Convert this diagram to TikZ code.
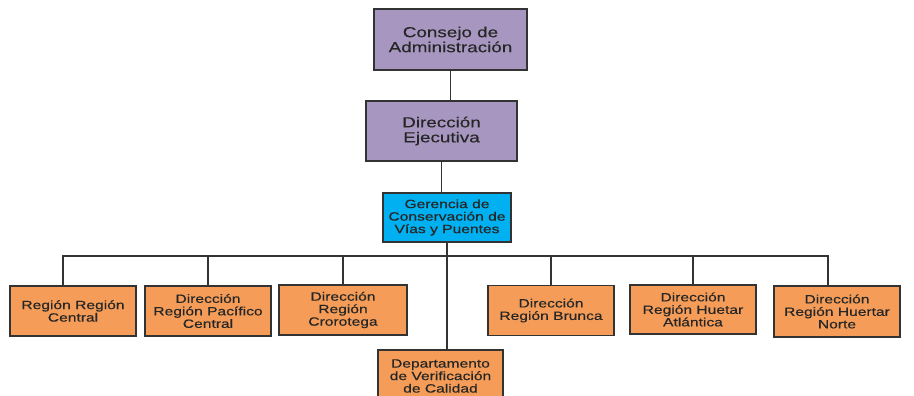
\documentclass[tikz,border=0pt]{standalone}
\usepackage{fontspec}
\setmainfont[FakeStretch=1.3,FakeBold=0.4]{Liberation Sans}
\usepackage{tikz}
\usetikzlibrary{positioning}
\definecolor{lila}{RGB}{167,151,192}
\definecolor{celeste}{RGB}{0,176,240}
\definecolor{naranja}{RGB}{245,157,88}
\definecolor{linea}{RGB}{51,51,51}
\def\fbig{\fontsize{14.5}{15}\selectfont}
\def\fsmall{\fontsize{12}{12.5}\selectfont}

\begin{document}
\begin{tikzpicture}[box/.style={draw=linea, line width=1.2pt, align=center, inner sep=0pt, text=black!85},
	top/.style={box, fill=lila, font=\fbig},
	reg/.style={box, fill=naranja, font=\fsmall, minimum width=126pt, minimum height=50pt},
	conn/.style={draw=linea, line width=1.2pt}]
	\useasboundingbox (0pt,0pt) rectangle (914pt,-396pt);
	\draw (450.5pt, -39.5pt)node[top, minimum width=153pt, minimum height=61pt](0){Consejo de\\Administración};
	\draw (441.5pt, -131.0pt)node[top, minimum width=151pt, minimum height=60pt](1){Dirección\\Ejecutiva};
	\draw (447.0pt, -217.5pt)node[box, fill=celeste, font=\fsmall, minimum width=128pt, minimum height=49pt](2){Gerencia de\\Conservación de\\Vías y Puentes};
	\draw (73.0pt, -311.0pt)node[reg](3){Región Región\\Central};
	\draw (208.0pt, -311.0pt)node[reg](4){Dirección\\Región Pacífico\\Central};
	\draw (343.0pt, -310.0pt)node[reg, minimum width=128pt](5){Dirección\\Región\\Crorotega};
	\draw (440.5pt, -376.0pt)node[reg, minimum width=125pt, minimum height=52pt](6){Departamento\\de Verificación\\de Calidad};
	\draw (551.0pt, -310.5pt)node[reg](7){Dirección\\Región Brunca};
	\draw (693.0pt, -309.5pt)node[reg, minimum height=49pt](8){Dirección\\Región Huetar\\Atlántica};
	\draw (837.0pt, -311.5pt)node[reg, minimum height=51pt](9){Dirección\\Región Huertar\\Norte};
	\coordinate (bar) at (447.0pt, -256.0pt);
	\path[conn] (0.south) -- (0.south |- 1.north);
	\path[conn] (1.south) -- (1.south |- 2.north);
	\path[conn] (2.south) -- (2.south |- 6.north);
	\path[conn] ([xshift=-10pt]3.north) |- (bar);
	\path[conn] (4.north) |- (bar);
	\path[conn] (5.north) |- (bar);
	\path[conn] (7.north) |- (bar);
	\path[conn] (8.north) |- (bar);
	\path[conn] ([xshift=-9pt]9.north) |- (bar);
	\end{tikzpicture}
\end{document}
